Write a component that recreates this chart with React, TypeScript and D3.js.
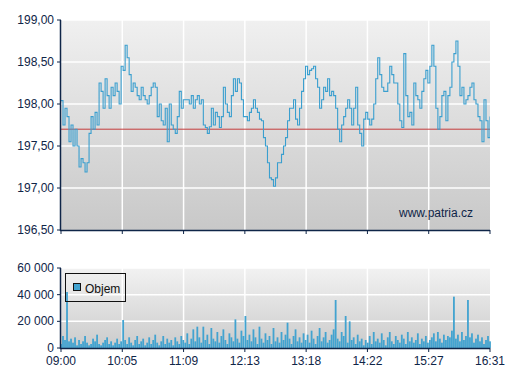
import React from "react";
import * as d3 from "d3";

const xTickLabels = ["09:00", "10:05", "11:09", "12:13", "13:18", "14:22", "15:27", "16:31"];
const priceTicks = [196.5, 197.0, 197.5, 198.0, 198.5, 199.0];
const volumeTicks = [0, 20000, 40000, 60000];
const referencePrice = 197.7;
const sessionMinutes = 451;

const prices = [
  198.04, 197.75, 197.95, 197.85, 197.55, 197.75, 197.5, 197.7, 197.5, 197.25, 197.35, 197.3, 197.19, 197.3, 197.65,
  197.85, 197.7, 197.9, 197.75, 198.25, 198.15, 197.95, 198.3, 198.1, 197.95, 198.2, 198.1, 198.25, 198.15, 198.0,
  198.45, 198.4, 198.7, 198.55, 198.35, 198.15, 198.25, 198.2, 198.1, 198.05, 198.2, 198.1, 198.05, 198.0, 198.1,
  198.2, 198.25, 198.2, 197.85, 198.0, 197.8, 197.75, 197.95, 197.55, 198.0, 197.75, 197.7, 197.65, 197.85, 198.15,
  197.95, 198.05, 198.05, 198.05, 198.0, 198.1, 197.95, 198.05, 198.1, 198.0, 198.05, 197.75,
  197.72, 197.65, 197.73, 197.95, 197.75, 197.9, 197.85, 197.72, 197.85, 198.2, 198.0, 197.9, 197.85, 198.1, 198.3,
  198.15, 198.3, 198.25, 198.05, 197.85, 197.85, 197.8, 197.9, 197.95, 198.05, 197.95, 197.9, 197.82, 197.8, 197.6,
  197.5, 197.3, 197.12, 197.1, 197.02, 197.12, 197.3, 197.3, 197.4, 197.5, 197.6, 197.8, 197.95, 197.95, 198.05,
  197.82, 197.75, 197.95, 198.15, 198.3, 198.45, 198.35, 198.4, 198.42, 198.45, 198.3, 198.2, 197.95, 198.05, 198.2,
  198.15, 198.3, 198.1, 198.15, 198.1, 197.95, 197.7, 197.55, 197.75, 197.85, 197.95,
  198.05, 197.95, 197.75, 197.95, 198.2, 197.75, 197.65, 197.5, 197.82, 197.9, 197.82, 197.75, 197.82, 198.0, 198.3,
  198.55, 198.35, 198.2, 198.15, 198.15, 198.25, 198.45, 198.35, 198.25, 198.25, 198.0, 197.8, 197.72, 198.6, 198.1,
  197.85, 197.9, 197.75, 198.25, 198.1, 198.05, 197.95, 198.15, 198.3, 198.4, 198.25, 198.45, 198.7, 198.45, 197.95,
  197.7, 197.85, 198.1, 198.15, 197.8, 198.1, 198.2, 198.5, 198.6, 198.75, 198.45, 198.1, 198.2, 198.0, 198.05,
  198.1, 198.2, 198.25, 198.05, 198.0, 197.85, 197.8, 197.55, 198.05, 197.8, 197.6, 197.85,
];

const volumes = [
  3000, 9000, 6000, 42000, 5000, 7000, 4000, 8000, 2000, 6000, 3000, 5000, 9000, 4000, 2000, 3000, 7000, 5000, 10000, 3000,
  2000, 4000, 6000, 8000, 3000, 5000, 2000, 4000, 7000, 3000,
  5000, 21000, 6000, 3000, 8000, 4000, 2000, 6000, 9000, 3000, 5000, 7000, 2000, 4000, 8000, 3000, 6000, 10000, 4000, 2000,
  5000, 9000, 3000, 7000, 4000, 6000, 2000, 8000, 5000, 3000, 9000,
  6000, 4000, 11000, 3000, 7000, 14000, 5000, 16000, 8000, 4000, 16000, 6000, 10000, 3000, 15000, 7000, 5000, 12000, 4000,
  9000, 14000, 6000, 3000, 11000, 8000, 5000, 21500, 7000, 4000, 13000, 9000,
  24000, 6000, 10000, 5000, 14000, 8000, 3000, 16000, 7000, 4000, 11000, 6000, 9000, 3000, 15000, 5000, 8000, 4000, 12000,
  6000, 10000, 19000, 7000, 3000, 9000, 14000, 5000, 8000, 4000, 11000, 6000,
  10000, 4000, 13000, 7000, 3000, 9000, 15000, 5000, 8000, 12000, 4000, 6000, 10000, 14000, 36000, 7000, 5000, 12000, 9000,
  24000, 4000, 20000, 6000, 8000, 3000, 10000, 5000, 7000, 2000, 6000, 4000,
  9000, 3000, 12000, 5000, 7000, 4000, 11000, 6000, 2000, 8000, 12000, 5000, 3000, 9000, 6000, 4000, 10000, 7000, 3000,
  12000, 5000, 8000, 4000, 6000, 11000, 3000, 7000, 5000, 9000, 4000, 6000,
  8000, 11000, 5000, 12000, 7000, 4000, 10000, 6000, 9000, 8000, 13000, 38500, 7000, 10000, 5000, 12000, 6000, 9000, 36000,
  8000, 11000, 4000, 7000, 10000, 5000, 8000, 3000, 6000, 9000, 5000,
];

const W = 507;
const H = 380;
const left = 61;
const right = 490;
const top1 = 20;
const bottom1 = 230;
const top2 = 268;
const bottom2 = 348;
const navy = "#0f2548";
const font = "'Liberation Sans', Arial, sans-serif";

const fmtPrice = (v: number) => v.toFixed(2).replace(".", ",");
const fmtVol = (v: number) => (v === 0 ? "0" : `${v / 1000} 000`);

export default function App() {
  const x = d3.scaleLinear().domain([0, sessionMinutes]).range([left, right]);
  const y1 = d3.scaleLinear().domain([196.5, 199]).range([bottom1, top1]);
  const y2 = d3.scaleLinear().domain([0, 60000]).range([bottom2, top2]);
  const tickMinutes = xTickLabels.map((_, i) => (i * sessionMinutes) / (xTickLabels.length - 1));

  const line = d3
    .line<number>()
    .x((_, i) => x((i * sessionMinutes) / (prices.length - 1)))
    .y((d) => y1(d))
    .curve(d3.curveStepAfter);

  const barW = ((right - left) / volumes.length) * 0.9;

  return (
    <svg width={W} height={H} style={{ position: "absolute", left: 0, top: 0, background: "#fff" }}>
      <defs>
        <linearGradient id="g1" x1="0" y1="0" x2="0" y2="1">
          <stop offset="0" stopColor="#f0f0f0" />
          <stop offset="1" stopColor="#c8c8c8" />
        </linearGradient>
        <linearGradient id="g2" x1="0" y1="0" x2="0" y2="1">
          <stop offset="0" stopColor="#f2f2f2" />
          <stop offset="1" stopColor="#cbcbcb" />
        </linearGradient>
        <clipPath id="c1">
          <rect x={left} y={top1} width={right - left} height={bottom1 - top1} />
        </clipPath>
      </defs>

      {/* price panel */}
      <rect x={left} y={top1} width={right - left} height={bottom1 - top1} fill="url(#g1)" />
      {priceTicks.slice(1).map((t) => (
        <line key={t} x1={left} x2={right} y1={y1(t)} y2={y1(t)} stroke="#fff" strokeWidth={1.5} />
      ))}
      {tickMinutes.slice(1, -1).map((m) => (
        <line key={m} x1={x(m)} x2={x(m)} y1={top1} y2={bottom1} stroke="#fff" strokeWidth={1.5} />
      ))}
      <line x1={left} x2={right} y1={y1(referencePrice)} y2={y1(referencePrice)} stroke="#c43c3c" strokeWidth={1} />
      <path d={line(prices) || ""} fill="none" stroke="#3a9fcf" strokeWidth={1.1} clipPath="url(#c1)" />
      <text x={473} y={217} fontFamily={font} fontSize={12} fill={navy} textAnchor="end">
        www.patria.cz
      </text>

      <line x1={left - 0.5} x2={left - 0.5} y1={top1} y2={bottom1 + 1} stroke={navy} strokeWidth={1.5} />
      <line x1={left - 1} x2={right} y1={bottom1 + 0.5} y2={bottom1 + 0.5} stroke={navy} strokeWidth={1.5} />
      {priceTicks.map((t) => (
        <g key={t}>
          <line x1={left - 4} x2={left} y1={y1(t)} y2={y1(t)} stroke={navy} strokeWidth={1} />
          <text x={54} y={y1(t) + 4} fontFamily={font} fontSize={12} fill={navy} textAnchor="end">
            {fmtPrice(t)}
          </text>
        </g>
      ))}
      {tickMinutes.map((m) => (
        <line key={m} x1={x(m)} x2={x(m)} y1={bottom1} y2={bottom1 + 4} stroke={navy} strokeWidth={1} />
      ))}

      {/* volume panel */}
      <rect x={left} y={top2} width={right - left} height={bottom2 - top2} fill="url(#g2)" />
      {volumeTicks.slice(1).map((t) => (
        <line key={t} x1={left} x2={right} y1={y2(t)} y2={y2(t)} stroke="#fff" strokeWidth={1.5} />
      ))}
      {tickMinutes.slice(1, -1).map((m) => (
        <line key={m} x1={x(m)} x2={x(m)} y1={top2} y2={bottom2} stroke="#fff" strokeWidth={1.5} />
      ))}
      {volumes.map((v, i) => {
        const cx = x((i * sessionMinutes) / (volumes.length - 1));
        return <rect key={i} x={cx - barW / 2} y={y2(v)} width={barW} height={bottom2 - y2(v)} fill="#42a3d0" />;
      })}
      <rect x={65.5} y={273.5} width={60} height={28} fill="none" stroke="#111" strokeWidth={1} />
      <rect x={73.5} y={283.5} width={7} height={7} fill="#42a3d0" stroke="#111" strokeWidth={1} />
      <text x={85} y={292.5} fontFamily={font} fontSize={12} fill="#111">
        Objem
      </text>

      <line x1={left - 0.5} x2={left - 0.5} y1={top2} y2={bottom2 + 1} stroke={navy} strokeWidth={1.5} />
      <line x1={left - 1} x2={right} y1={bottom2 + 0.5} y2={bottom2 + 0.5} stroke={navy} strokeWidth={1.5} />
      {volumeTicks.map((t) => (
        <g key={t}>
          <line x1={left - 4} x2={left} y1={y2(t)} y2={y2(t)} stroke={navy} strokeWidth={1} />
          <text x={54} y={y2(t) + 4} fontFamily={font} fontSize={12} fill={navy} textAnchor="end">
            {fmtVol(t)}
          </text>
        </g>
      ))}
      {tickMinutes.map((m, i) => (
        <g key={m}>
          <line x1={x(m)} x2={x(m)} y1={bottom2} y2={bottom2 + 4} stroke={navy} strokeWidth={1} />
          <text x={x(m)} y={365} fontFamily={font} fontSize={12} fill={navy} textAnchor="middle">
            {xTickLabels[i]}
          </text>
        </g>
      ))}
    </svg>
  );
}
